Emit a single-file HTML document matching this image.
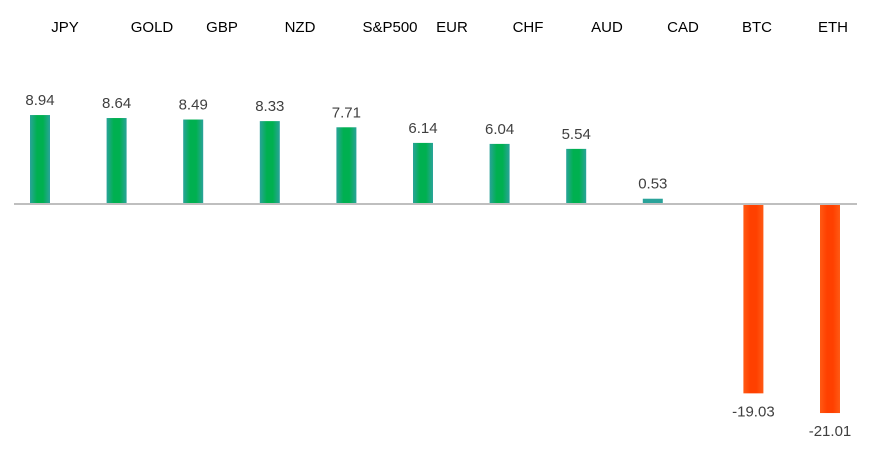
<!DOCTYPE html>
<html><head><meta charset="utf-8"><style>
body{margin:0;background:#fff;width:875px;height:454px;overflow:hidden;font-family:"Liberation Sans",Calibri,sans-serif}
.cat{position:absolute;top:19px;font-size:15px;color:#000;transform:translateX(-50%);white-space:nowrap}
</style></head><body>
<div style="position:relative;width:875px;height:454px">
<span class="cat" style="left:65px">JPY</span>
<span class="cat" style="left:152px">GOLD</span>
<span class="cat" style="left:222px">GBP</span>
<span class="cat" style="left:300px">NZD</span>
<span class="cat" style="left:390px">S&amp;P500</span>
<span class="cat" style="left:452px">EUR</span>
<span class="cat" style="left:528px">CHF</span>
<span class="cat" style="left:607px">AUD</span>
<span class="cat" style="left:683px">CAD</span>
<span class="cat" style="left:757px">BTC</span>
<span class="cat" style="left:833px">ETH</span>
<svg id="svg" width="875" height="454" style="position:absolute;left:0;top:0">
<defs>
<linearGradient id="g" x1="0" x2="1"><stop offset="0" stop-color="#2aa39a"/><stop offset="0.35" stop-color="#00b050"/><stop offset="0.65" stop-color="#00b050"/><stop offset="1" stop-color="#2aa39a"/></linearGradient>
<linearGradient id="r" x1="0" x2="1"><stop offset="0" stop-color="#ff5a14"/><stop offset="0.35" stop-color="#ff4000"/><stop offset="0.65" stop-color="#ff4000"/><stop offset="1" stop-color="#ff5a14"/></linearGradient>
</defs>
</svg>
</div>
<script>
const categories=["JPY","GOLD","GBP","NZD","S&P500","EUR","CHF","AUD","CAD","BTC","ETH"];
const values=[8.94,8.64,8.49,8.33,7.71,6.14,6.04,5.54,0.53,-19.03,-21.01];
const labels=["8.94","8.64","8.49","8.33","7.71","6.14","6.04","5.54","0.53","-19.03","-21.01"];
const NS="http://www.w3.org/2000/svg";
const svg=document.getElementById('svg');
const y0=204, k=9.95;
const yScale=v=>y0-v*k;
const xScale=i=>40+i*76.6+(i>=9?24:0);
const bw=20;
const ax=document.createElementNS(NS,'line');
ax.setAttribute('x1',14);ax.setAttribute('x2',857);ax.setAttribute('y1',y0);ax.setAttribute('y2',y0);
ax.setAttribute('stroke','#bfbfbf');ax.setAttribute('stroke-width',2);


values.forEach((v,i)=>{
  const cx=xScale(i);
  const r=document.createElementNS(NS,'rect');
  const top=Math.min(yScale(v),y0), h=Math.abs(yScale(v)-y0);
  r.setAttribute('x',cx-bw/2);r.setAttribute('y',top);r.setAttribute('width',bw);r.setAttribute('height',h);
  r.setAttribute('fill',v<0?'url(#r)':(v<1?'#2aa39a':'url(#g)'));
  
  
  svg.appendChild(r);
  const t=document.createElementNS(NS,'text');
  t.setAttribute('x',cx);t.setAttribute('y',v<0?yScale(v)+23:yScale(v)-10);
  t.setAttribute('text-anchor','middle');t.setAttribute('font-size','15');t.setAttribute('fill','#404040');
  t.setAttribute('font-family','Liberation Sans, sans-serif');
  t.textContent=labels[i];
  
  
  svg.appendChild(t);
});
svg.appendChild(ax);
</script>
</body></html>
